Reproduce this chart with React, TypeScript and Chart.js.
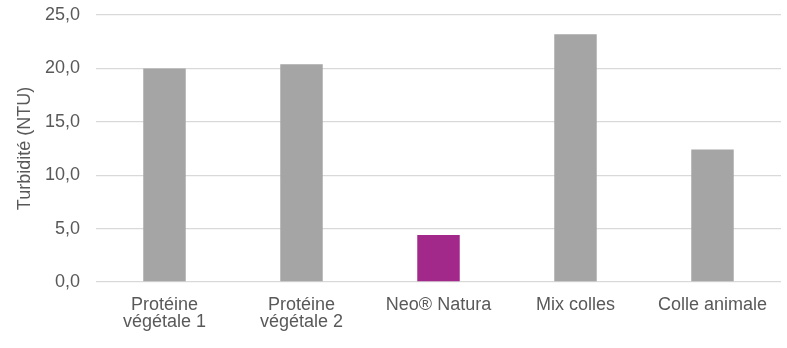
import React, { useEffect, useRef } from "react";
import { Chart, registerables } from "chart.js";

Chart.register(...registerables);

const categories: (string | string[])[] = [
  ["Protéine", "végétale 1"],
  ["Protéine", "végétale 2"],
  "Neo® Natura",
  "Mix colles",
  "Colle animale",
];
const turbidity = [20.0, 20.4, 4.4, 23.2, 12.4];
const barColors = ["#A5A5A5", "#A5A5A5", "#A2288A", "#A5A5A5", "#A5A5A5"];
const yTitle = "Turbidité (NTU)";

const FONT = "'Liberation Sans', Arial, sans-serif";
const TEXT = "#595959";

export default function App() {
  const ref = useRef<HTMLCanvasElement | null>(null);
  useEffect(() => {
    if (!ref.current) return;
    const chart = new Chart(ref.current, {
      type: "bar",
      data: {
        labels: categories,
        datasets: [
          {
            data: turbidity,
            backgroundColor: barColors,
            borderWidth: 0,
            barPercentage: 0.31,
            categoryPercentage: 1,
          },
        ],
      },
      options: {
        responsive: false,
        animation: false,
        layout: { padding: { left: 0, right: 6, top: 15, bottom: 0 } },
        plugins: { legend: { display: false }, tooltip: { enabled: false } },
        scales: {
          x: {
            grid: { display: false, drawTicks: false },
            border: { display: false },
            ticks: {
              color: TEXT,
              font: { family: FONT, size: 18, lineHeight: 0.95 },
              padding: 14,
              maxRotation: 0,
              autoSkip: false,
            },
            afterFit: (s: any) => {
              s.height = 66;
              s.paddingLeft = 0;
              s.paddingRight = 0;
            },
          },
          y: {
            min: 0,
            max: 25,
            grid: { color: "#D9D9D9", lineWidth: 1.3, drawTicks: false },
            border: { display: false },
            ticks: {
              stepSize: 5,
              color: TEXT,
              padding: 16,
              font: { family: FONT, size: 18 },
              callback: (v: any) => Number(v).toFixed(1).replace(".", ","),
            },
            title: {
              display: true,
              text: yTitle,
              color: TEXT,
              font: { family: FONT, size: 18 },
              padding: { top: 14, bottom: 0 },
            },
            afterFit: (s: any) => {
              s.width = 96;
              s.paddingTop = 0;
              s.paddingBottom = 0;
            },
          },
        },
      },
    });
    return () => chart.destroy();
  }, []);
  return (
    <div style={{ position: "absolute", left: 0, top: 0, width: 787, height: 348, background: "#fff" }}>
      <canvas ref={ref} width={787} height={348} style={{ display: "block" }} />
    </div>
  );
}
